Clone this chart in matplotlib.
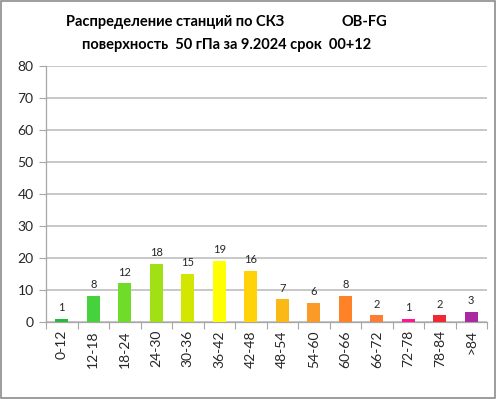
import matplotlib
matplotlib.use("Agg")
import matplotlib.pyplot as plt
from matplotlib.patches import Rectangle

categories = ["0-12", "12-18", "18-24", "24-30", "30-36", "36-42", "42-48",
              "48-54", "54-60", "60-66", "66-72", "72-78", "78-84", ">84"]
values = [1, 8, 12, 18, 15, 19, 16, 7, 6, 8, 2, 1, 2, 3]
colors = ["#22BB3A", "#46D23C", "#6EDC28", "#A0E014", "#D2E600", "#FFFF00",
          "#FFD20A", "#FAB914", "#FA9B28", "#FF8228", "#FF7D32", "#FF1493",
          "#F02832", "#AA28A0"]
yticks = [0, 10, 20, 30, 40, 50, 60, 70, 80]
title1 = "Распределение станций по СКЗ"
title2 = "OB-FG"
title3 = "поверхность  50 гПа за 9.2024 срок  00+12"

plt.rcParams['font.family'] = ['Lato', 'DejaVu Sans']

fig = plt.figure(figsize=(4.96, 3.99), dpi=100)
ax = fig.add_axes([46/496, 1-321.7/399, (487-46)/496, (321.7-65.7)/399])

x = list(range(len(categories)))
ax.bar(x, values, width=0.42, color=colors, zorder=3)
for xi, v in zip(x, values):
    ax.text(xi, v + 1.8, str(v), ha='center', va='bottom', fontsize=8, color='#262626')

ax.set_xlim(-0.5, len(categories) - 0.5)
ax.set_ylim(0, 80)
ax.set_yticks(yticks)
ax.tick_params(axis='y', labelsize=10, colors='#262626', length=5, width=0.8, color='#A6A6A6', pad=4)
ax.yaxis.grid(True, color='#BFBFBF', linewidth=1.2, zorder=0)
ax.set_axisbelow(True)

ax.set_xticks(x)
ax.set_xticklabels(categories, rotation=90, fontsize=10, color='#262626')
ax.set_xticks([i - 0.5 for i in range(len(categories) + 1)], minor=True)
ax.tick_params(axis='x', which='major', length=0, pad=6)
ax.tick_params(axis='x', which='minor', length=5, width=0.8, color='#A6A6A6')

for s in ['top', 'right']:
    ax.spines[s].set_visible(False)
for s in ['left', 'bottom']:
    ax.spines[s].set_color('#A6A6A6')
    ax.spines[s].set_linewidth(0.9)

fig.text(175/496, 1-22/399, title1, ha='center', va='center', fontsize=10.5, fontweight='bold')
fig.text(364/496, 1-22/399, title2, ha='center', va='center', fontsize=10.5, fontweight='bold')
fig.text(227/496, 1-45/399, title3, ha='center', va='center', fontsize=10.5, fontweight='bold')

fig.patches.append(Rectangle((0.002, 0.003), 0.995, 0.994, transform=fig.transFigure,
                             fill=False, edgecolor='#8C8C8C', linewidth=1.2))

fig.savefig("out.png", dpi=100)
